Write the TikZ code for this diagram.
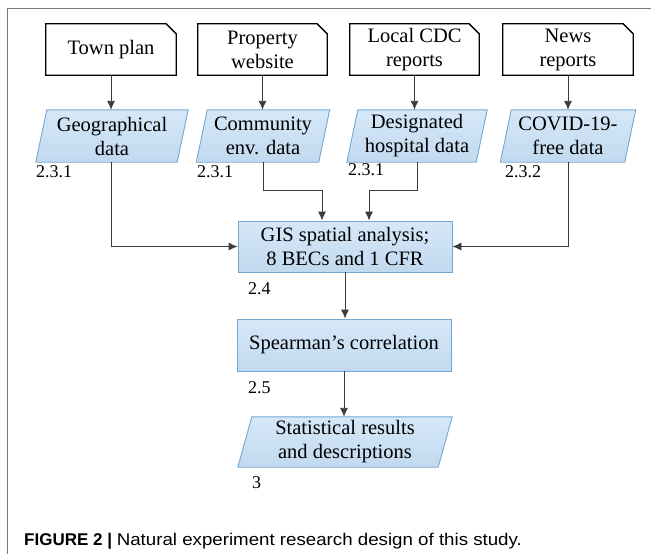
\documentclass[tikz,border=0pt]{standalone}
\usepackage{fontspec}
\usepackage{graphicx}
\newfontfamily\serifont{Liberation Serif}[Ligatures=TeX]
\newfontfamily\capfont{Liberation Sans}[Ligatures=TeX]
\usetikzlibrary{arrows.meta}
\pgfdeclarelayer{background}
\pgfsetlayers{background,main}
\definecolor{paratop}{RGB}{214,232,248}
\definecolor{parabot}{RGB}{193,217,239}
\definecolor{paraedge}{RGB}{115,168,212}
\definecolor{linegray}{RGB}{60,60,60}
\definecolor{framegray}{RGB}{120,120,120}
\tikzset{
  maintext/.style={font=\serifont\fontsize{20.5}{24}\selectfont, align=center, text=black},
  docbox/.style={maintext, minimum width=130pt, minimum height=51pt, inner sep=0pt},
  parabox/.style={maintext, minimum height=52pt, inner sep=0pt},
  procbox/.style={maintext, minimum width=214pt, minimum height=51pt, inner sep=0pt,
     draw=paraedge, line width=0.9pt, top color=paratop, bottom color=parabot},
  paraoutline/.style={draw=paraedge, line width=0.9pt, top color=paratop, bottom color=parabot},
  docoutline/.style={draw=black, line width=1.3pt, fill=white},
  numlabel/.style={font=\serifont\fontsize{18}{20}\selectfont, anchor=west, inner sep=0pt},
  arr/.style={draw=linegray, line width=0.9pt, -{Latex[length=9pt,width=8pt]}},
}
\begin{document}
\begin{tikzpicture}[x=1pt,y=-1pt]
\useasboundingbox (0,0) rectangle (651,554);
\draw[framegray, line width=1pt] (7.5,554) -- (7.5,8.5) -- (651,8.5);

% top source boxes
\node[docbox] (town) at (111,49.5) {Town plan};
\node[docbox, minimum width=129pt] (prop) at (262.5,49.5) {Property\\website};
\node[docbox, minimum width=129pt] (cdc) at (414.5,49.5) {Local CDC\\reports};
\node[docbox] (news) at (568,49.5) {News\\reports};

% parallelogram data boxes
\node[parabox, minimum width=141pt] (geo) at (112,136) {Geographical\\data};
\node[parabox, minimum width=122pt] (comm) at (263,136) {Community\\env. data};
\node[parabox, minimum width=129pt] (hosp) at (417,136) {Designated\\hospital data};
\node[parabox, minimum width=124pt] (covid) at (568,136) {COVID-19-\\free data};

% process boxes
\node[procbox] (gis) at (345,246.5) {GIS spatial analysis;\\8 BECs and 1 CFR};
\node[procbox, minimum height=52pt] (spear) at (344,345) {Spearman’s correlation};
\node[parabox, minimum width=200pt, minimum height=50pt] (res) at (345,442) {Statistical results\\and descriptions};

\begin{pgfonlayer}{background}
  \fill[white] (0,0) rectangle (651,554);
  \foreach \n in {town,prop,cdc,news}{
    \draw[docoutline] (\n.north west) -- ([xshift=-10pt]\n.north east) -- ([yshift=-10pt]\n.north east)
      -- (\n.south east) -- (\n.south west) -- cycle;
  }
  \foreach \n/\s in {geo/5.5,comm/5.5,hosp/5.5,covid/5.5,res/7}{
    \draw[paraoutline] ([xshift=\s pt]\n.north west) -- ([xshift=\s pt]\n.north east)
      -- ([xshift=-\s pt]\n.south east) -- ([xshift=-\s pt]\n.south west) -- cycle;
  }
\end{pgfonlayer}

% section labels
\node[numlabel] (l1) at (36,172) {2.3.1};
\node[numlabel] (l2) at (197,172) {2.3.1};
\node[numlabel] (l3) at (348,170) {2.3.1};
\node[numlabel] (l4) at (505,172) {2.3.2};
\node[numlabel] (l5) at (248,289) {2.4};
\node[numlabel] (l6) at (248,388) {2.5};
\node[numlabel] (l7) at (252,483) {3};

% connectors
\draw[arr] (town.south) -- (town.south |- geo.north);
\draw[arr] (prop.south) -- (prop.south |- comm.north);
\draw[arr] (cdc.south) -- (cdc.south |- hosp.north);
\draw[arr] (news.south) -- (news.south |- covid.north);

\draw[arr] ([xshift=-1pt]geo.south) |- (gis.west);
\draw[arr] (comm.south) |- ([xshift=-23pt,yshift=30pt]gis.north) -- ([xshift=-23pt]gis.north);
\draw[arr] (hosp.south) |- ([xshift=24pt,yshift=30pt]gis.north) -- ([xshift=24pt]gis.north);
\draw[arr] (covid.south) |- (gis.east);
\draw[arr] (gis.south) -- (gis.south |- spear.north);
\draw[arr] (spear.south) -- (spear.south |- res.north);

% caption
\node[anchor=base west, inner sep=0pt, font=\capfont\fontsize{17}{20}\selectfont] (cap) at (24,545)
  {\textbf{FIGURE 2 |}\hspace{0.28em}\scalebox{1.1}[1]{Natural experiment research design of this study.}};
\end{tikzpicture}
\end{document}
